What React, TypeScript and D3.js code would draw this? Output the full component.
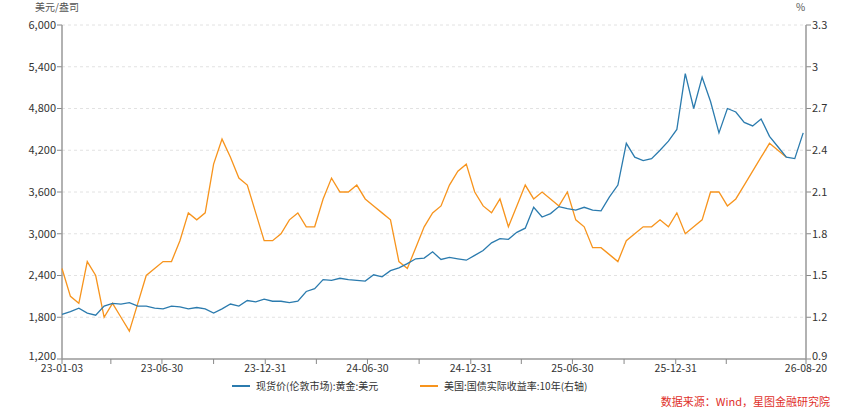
import * as d3 from 'd3'

const start = new Date(2023, 0, 3)
const end = new Date(2026, 7, 20)
const stepDays = 15

const gold = [
  1840, 1880, 1930, 1860, 1830, 1960, 2000, 1990, 2010, 1960, 1960, 1930, 1920, 1960, 1950, 1920,
  1940, 1920, 1860, 1920, 1990, 1960, 2040, 2020, 2060, 2030, 2030, 2010, 2030, 2170, 2210, 2340,
  2330, 2360, 2340, 2330, 2320, 2410, 2380, 2470, 2510, 2570, 2640, 2650, 2740, 2630, 2660, 2640,
  2620, 2690, 2760, 2870, 2930, 2920, 3020, 3080, 3380, 3240, 3290, 3390, 3360, 3340, 3380, 3340,
  3330, 3530, 3700, 4300, 4100, 4050, 4080, 4200, 4330, 4500, 5300, 4800, 5250, 4900, 4450, 4800,
  4750, 4600, 4550, 4650, 4400, 4250, 4100, 4080, 4450,
]

const realYield = [
  1.55, 1.35, 1.3, 1.6, 1.5, 1.2, 1.3, 1.2, 1.1, 1.3, 1.5, 1.55, 1.6, 1.6, 1.75, 1.95,
  1.9, 1.95, 2.3, 2.48, 2.35, 2.2, 2.15, 1.95, 1.75, 1.75, 1.8, 1.9, 1.95, 1.85, 1.85, 2.05,
  2.2, 2.1, 2.1, 2.15, 2.05, 2.0, 1.95, 1.9, 1.6, 1.55, 1.7, 1.85, 1.95, 2.0, 2.15, 2.25,
  2.3, 2.1, 2.0, 1.95, 2.05, 1.85, 2.0, 2.15, 2.05, 2.1, 2.05, 2.0, 2.1, 1.9, 1.85, 1.7,
  1.7, 1.65, 1.6, 1.75, 1.8, 1.85, 1.85, 1.9, 1.85, 1.95, 1.8, 1.85, 1.9, 2.1, 2.1, 2.0,
  2.05, 2.15, 2.25, 2.35, 2.45, 2.4, 2.35,
]

const leftTicks = [1200, 1800, 2400, 3000, 3600, 4200, 4800, 5400, 6000]
const rightTicks = [0.9, 1.2, 1.5, 1.8, 2.1, 2.4, 2.7, 3.0, 3.3]
const labelDates = [
  new Date(2023, 0, 3), new Date(2023, 5, 30), new Date(2023, 11, 31), new Date(2024, 5, 30),
  new Date(2024, 11, 31), new Date(2025, 5, 30), new Date(2025, 11, 31), new Date(2026, 7, 20),
]
const minorDates = [
  new Date(2023, 2, 31), new Date(2023, 8, 30), new Date(2024, 2, 31), new Date(2024, 8, 30),
  new Date(2025, 2, 31), new Date(2025, 8, 30), new Date(2026, 2, 31),
]

const W = 848, H = 413
const L = 62, R = 806, T = 25, B = 359
const font = "'Noto Sans CJK SC', 'Noto Sans', sans-serif"

export default function App() {
  const x = d3.scaleTime().domain([start, end]).range([L, R])
  const yL = d3.scaleLinear().domain([1200, 6000]).range([B, T])
  const yR = d3.scaleLinear().domain([0.9, 3.3]).range([B, T])
  const dateOf = (i: number) => d3.timeDay.offset(start, i * stepDays)
  const goldLine = d3.line<number>().x((_, i) => x(dateOf(i))).y((d) => yL(d))
  const yieldLine = d3.line<number>().x((_, i) => x(dateOf(i))).y((d) => yR(d))
  const fmt = d3.timeFormat('%y-%m-%d')

  return (
    <svg width={W} height={H} style={{ position: 'absolute', left: 0, top: 0, fontFamily: font }}>
      <rect width={W} height={H} fill="#fff" />
      {leftTicks.map((t) => (
        <g key={t}>
          {t !== 1200 && (
            <line x1={L} x2={R} y1={yL(t)} y2={yL(t)} stroke="#e2e2e2" strokeDasharray="3,3" />
          )}
          <line x1={L - 5} x2={L} y1={yL(t)} y2={yL(t)} stroke="#888" />
          <text x={L - 6} y={t === 1200 ? yL(t) - 3 : yL(t)} dy="0.35em" textAnchor="end" fontSize={11} fill="#333">
            {d3.format(',')(t)}
          </text>
        </g>
      ))}
      {rightTicks.map((t) => (
        <g key={t}>
          <line x1={R} x2={R + 5} y1={yR(t)} y2={yR(t)} stroke="#888" />
          <text x={R + 6} y={t === 0.9 ? yR(t) - 3 : yR(t)} dy="0.35em" fontSize={11} fill="#333">
            {d3.format('~g')(t)}
          </text>
        </g>
      ))}
      <line x1={L} x2={L} y1={T} y2={B} stroke="#999" strokeWidth={1.5} />
      <line x1={R} x2={R} y1={T} y2={B} stroke="#999" strokeWidth={1.5} />
      <line x1={L} x2={R} y1={B} y2={B} stroke="#999" strokeWidth={1.5} />
      {labelDates.concat(minorDates).map((d, i) => (
        <line key={i} x1={x(d)} x2={x(d)} y1={B} y2={B + 5} stroke="#888" />
      ))}
      {labelDates.map((d, i) => (
        <text key={i} x={x(d)} y={B + 13} textAnchor="middle" fontSize={10.5} fill="#333">
          {fmt(d)}
        </text>
      ))}
      <text x={35} y={11} fontSize={10} fill="#555">美元/盎司</text>
      <text x={796} y={11} fontSize={10} fill="#555">%</text>
      <path d={yieldLine(realYield) || undefined} fill="none" stroke="#f7941d" strokeWidth={1.3} />
      <path d={goldLine(gold) || undefined} fill="none" stroke="#2b7bae" strokeWidth={1.3} />
      <g fontSize={10} fill="#333">
        <line x1={232} x2={250} y1={386} y2={386} stroke="#2b7bae" strokeWidth={2} />
        <text x={256} y={386} dy="0.35em">现货价(伦敦市场):黄金:美元</text>
        <line x1={420} x2={438} y1={386} y2={386} stroke="#f7941d" strokeWidth={2} />
        <text x={444} y={386} dy="0.35em">美国:国债实际收益率:10年(右轴)</text>
      </g>
      <text x={830} y={402} dy="0.35em" textAnchor="end" fontSize={11} fill="#e0302a">
        数据来源：Wind，星图金融研究院
      </text>
    </svg>
  )
}
